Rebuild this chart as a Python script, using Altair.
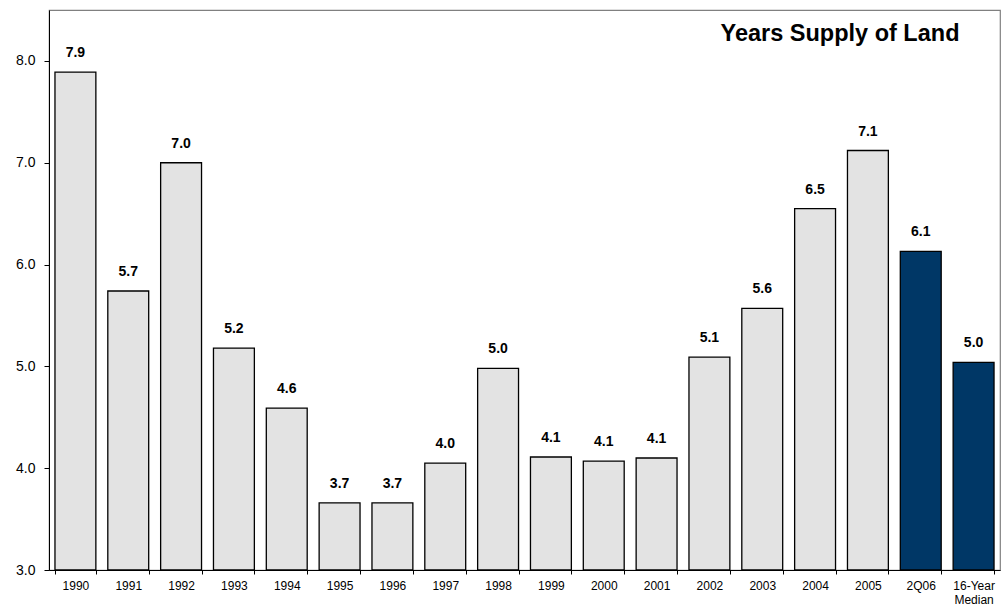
import altair as alt
import pandas as pd

categories = ["1990", "1991", "1992", "1993", "1994", "1995", "1996", "1997", "1998",
              "1999", "2000", "2001", "2002", "2003", "2004", "2005", "2Q06", "16-Year\nMedian"]
values = [7.89, 5.74, 7.00, 5.18, 4.59, 3.66, 3.66, 4.05, 4.98,
          4.11, 4.07, 4.10, 5.09, 5.57, 6.55, 7.12, 6.13, 5.04]
labels = ["7.9", "5.7", "7.0", "5.2", "4.6", "3.7", "3.7", "4.0", "5.0",
          "4.1", "4.1", "4.1", "5.1", "5.6", "6.5", "7.1", "6.1", "5.0"]
groups = ["hist"] * 16 + ["current", "current"]

df = pd.DataFrame({"cat": categories, "value": values, "label": labels, "group": groups})

FONT = "Liberation Sans"

x_enc = alt.X("cat:N", sort=None, title=None,
              scale=alt.Scale(paddingInner=0.226, paddingOuter=0.113),
              axis=alt.Axis(labelAngle=0, labelFontSize=12, labelFont=FONT, labelColor="black",
                            labelExpr="split(datum.label, '\\n')", labelPadding=6,
                            tickBand="extent", tickColor="black", tickSize=4,
                            domainColor="black", labelLineHeight=14))
y_scale = alt.Scale(domain=[3, 8.5], nice=False, zero=False, clamp=True)

bars = alt.Chart(df).mark_bar(stroke="black", strokeWidth=1.3).encode(
    x=x_enc,
    y=alt.Y("value:Q", scale=y_scale, title=None,
            axis=alt.Axis(values=[3, 4, 5, 6, 7, 8], format=".1f", grid=False,
                          labelFontSize=14, labelFont=FONT, labelColor="black",
                          tickColor="black", tickSize=5, domainColor="black", labelPadding=9)),
    y2=alt.datum(3),
    color=alt.Color("group:N", scale=alt.Scale(domain=["hist", "current"],
                                               range=["#E3E3E3", "#003766"]), legend=None),
)

text = alt.Chart(df).mark_text(baseline="alphabetic", dy=-15, fontSize=14, fontWeight="bold",
                               font=FONT, color="black").encode(
    x=alt.X("cat:N", sort=None),
    y=alt.Y("value:Q", scale=y_scale),
    text="label:N",
)

title = alt.Chart(pd.DataFrame({"t": ["Years Supply of Land"]})).mark_text(
    fontSize=23.5, fontWeight="bold", font=FONT, color="black", align="center", baseline="middle"
).encode(x=alt.value(791), y=alt.value(24), text="t:N")

chart = alt.layer(bars, text, title).properties(
    width=951, height=560,
    padding={"left": 49, "top": 10, "right": 3, "bottom": 37},
    autosize=alt.AutoSizeParams(type="none"),
).configure_view(stroke="#808080", strokeWidth=1.2)

chart.save("out.html", embed_options={"renderer": "svg", "actions": False})
